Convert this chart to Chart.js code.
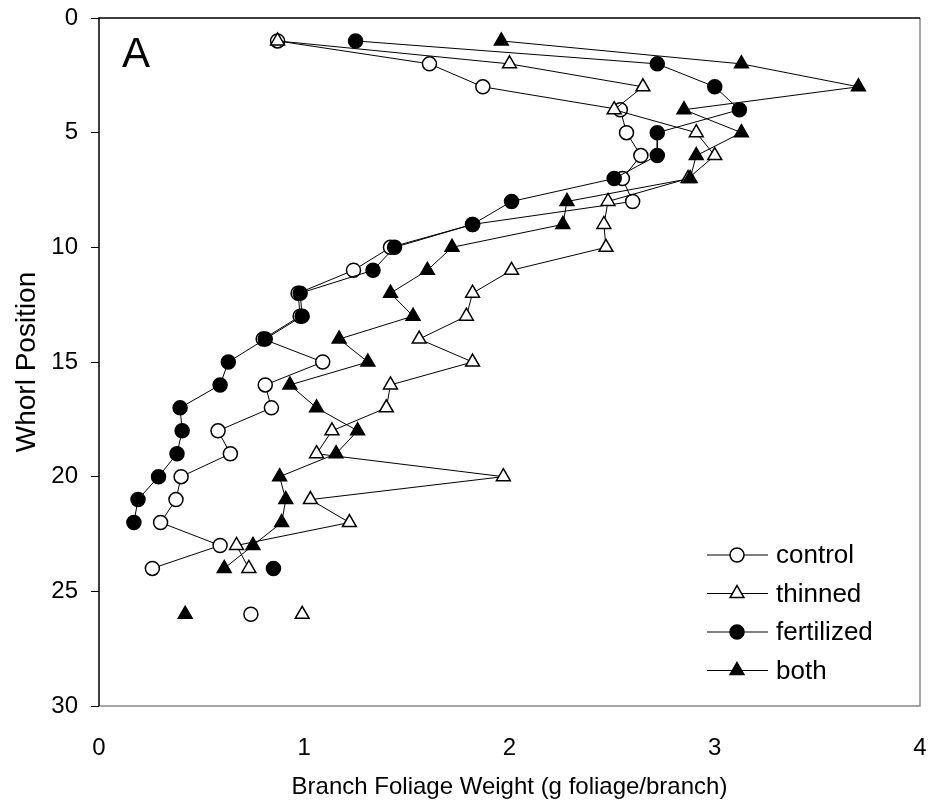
<!DOCTYPE html>
<html>
<head>
<meta charset="utf-8">
<title>Branch foliage by whorl</title>
<script src="https://cdn.jsdelivr.net/npm/chart.js@4/dist/chart.umd.min.js"></script>
<style>
  body { margin: 0; background: #fff; }
  #wrap { width: 930px; height: 804px; }
</style>
</head>
<body>
<div id="wrap"><canvas id="foliageChart" width="930" height="804"></canvas></div>
<script>
// whorl number from the top of the crown
const whorls = [1, 2, 3, 4, 5, 6, 7, 8, 9, 10, 11, 12, 13, 14, 15, 16, 17, 18, 19, 20, 21, 22, 23, 24, 25, 26];

// branch foliage weight (g foliage/branch), null = no branch measured
const control = [0.87, 1.61, 1.87, 2.54, 2.57, 2.64, 2.55, 2.60, 1.82, 1.42, 1.24, 0.97, 0.98,
    0.80, 1.09, 0.81, 0.84, 0.58, 0.64, 0.40, 0.375, 0.30, 0.59, 0.26, null, 0.74];
const thinned = [0.87, 2.00, 2.65, 2.51, 2.91, 3.00, 2.87, 2.48, 2.46, 2.47, 2.01, 1.82, 1.79,
    1.56, 1.82, 1.42, 1.40, 1.135, 1.06, 1.97, 1.03, 1.22, 0.67, 0.73, null, 0.99];
const fertilized = [1.25, 2.72, 3.00, 3.12, 2.72, 2.72, 2.51, 2.01, 1.82, 1.44, 1.335, 0.98, 0.99,
    0.81, 0.63, 0.59, 0.395, 0.405, 0.38, 0.29, 0.19, 0.17, null, 0.85, null, null];
const both = [1.96, 3.13, 3.70, 2.85, 3.13, 2.91, 2.88, 2.28, 2.26, 1.72, 1.60, 1.42, 1.53,
    1.17, 1.31, 0.93, 1.06, 1.26, 1.155, 0.88, 0.91, 0.89, 0.75, 0.61, null, 0.42];

const xTicks = [0, 1, 2, 3, 4];
const yTicks = [0, 5, 10, 15, 20, 25, 30];

const FAMILY = '"Liberation Sans", Arial, sans-serif';
const FONT = { family: FAMILY, size: 24 };

function toPoints(values) {
    return whorls.map((w, i) => ({ x: values[i], y: w }));
}

function makeSeries(label, values, style, filled, order) {
    return {
        label: label,
        data: toPoints(values),
        borderColor: '#000',
        borderWidth: 1,
        pointStyle: style,
        pointRadius: style === 'triangle' ? 8 : 7,
        pointBorderWidth: 1.5,
        pointBorderColor: '#000',
        pointBackgroundColor: filled ? '#000' : '#fff',
        spanGaps: false,
        tension: 0,
        order: order
    };
}

const seriesList = [
    makeSeries('control', control, 'circle', false, 3),
    makeSeries('thinned', thinned, 'triangle', false, 2),
    makeSeries('fertilized', fertilized, 'circle', true, 1),
    makeSeries('both', both, 'triangle', true, 0)
];

// frame, panel letter and the line+marker legend
const framePlugin = {
    id: 'frame',
    afterDraw(chart) {
        const { ctx, chartArea: a } = chart;
        ctx.save();
        ctx.lineWidth = 1.5;
        ctx.strokeStyle = '#888';
        ctx.beginPath();
        ctx.moveTo(a.right, a.top);
        ctx.lineTo(a.right, a.bottom);
        ctx.lineTo(a.left, a.bottom);
        ctx.stroke();
        ctx.strokeStyle = '#000';
        ctx.beginPath();
        ctx.moveTo(a.right, a.top);
        ctx.lineTo(a.left, a.top);
        ctx.lineTo(a.left, a.bottom);
        ctx.stroke();

        ctx.fillStyle = '#000';
        ctx.font = '42px ' + FAMILY;
        ctx.textAlign = 'left';
        ctx.textBaseline = 'alphabetic';
        ctx.fillText('A', 122, 67);

        const x0 = 707, x1 = 768, mx = 737, tx = 776;
        let y = 555;
        ctx.font = '26px ' + FAMILY;
        ctx.textBaseline = 'middle';
        chart.data.datasets.forEach(ds => {
            ctx.strokeStyle = '#000';
            ctx.lineWidth = 1;
            ctx.beginPath();
            ctx.moveTo(x0, y);
            ctx.lineTo(x1, y);
            ctx.stroke();
            ctx.fillStyle = ds.pointBackgroundColor;
            ctx.strokeStyle = '#000';
            ctx.lineWidth = 1.5;
            Chart.helpers.drawPoint(ctx, {
                pointStyle: ds.pointStyle,
                radius: ds.pointStyle === 'triangle' ? 8 : 7,
                borderWidth: 1.5,
                rotation: 0
            }, mx, y);
            ctx.fillStyle = '#000';
            ctx.fillText(ds.label, tx, y + 1);
            y += 38.5;
        });
        ctx.restore();
    }
};

new Chart(document.getElementById('foliageChart'), {
    type: 'line',
    data: { datasets: seriesList },
    options: {
        responsive: false,
        animation: false,
        layout: { padding: { top: 18, right: 10, left: 0, bottom: 0 } },
        plugins: {
            legend: { display: false },
            tooltip: { enabled: false }
        },
        scales: {
            x: {
                type: 'linear',
                min: xTicks[0],
                max: xTicks[xTicks.length - 1],
                afterBuildTicks: s => { s.ticks = xTicks.map(v => ({ value: v })); },
                ticks: { font: FONT, color: '#000', padding: 28, maxRotation: 0 },
                grid: { display: false, drawTicks: false },
                border: { display: false },
                title: {
                    display: true,
                    text: 'Branch Foliage Weight (g foliage/branch)',
                    font: FONT,
                    color: '#000',
                    padding: { top: 0, bottom: 2 }
                },
                afterFit: s => {
                    s.height = 98;
                    s.paddingLeft = 0;
                    s.paddingRight = 0;
                }
            },
            y: {
                type: 'linear',
                reverse: true,
                min: yTicks[0],
                max: yTicks[yTicks.length - 1],
                afterBuildTicks: s => { s.ticks = yTicks.map(v => ({ value: v })); },
                ticks: { font: FONT, color: '#000', padding: 13 },
                grid: { drawOnChartArea: false, drawTicks: true, tickLength: 8, color: '#000', lineWidth: 1 },
                border: { display: false },
                title: {
                    display: true,
                    text: 'Whorl Position',
                    font: { family: FAMILY, size: 28 },
                    color: '#000',
                    padding: { top: 10, bottom: 0 }
                },
                afterFit: s => {
                    s.width = 99;
                    s.paddingTop = 0;
                    s.paddingBottom = 0;
                }
            }
        }
    },
    plugins: [framePlugin]
});
</script>
</body>
</html>
